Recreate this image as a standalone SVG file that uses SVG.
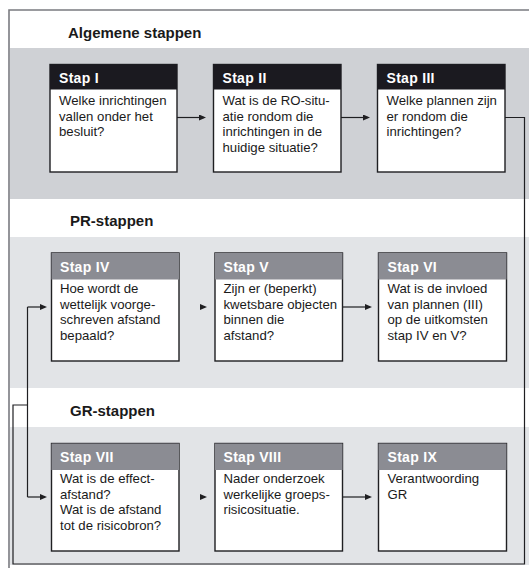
<svg xmlns="http://www.w3.org/2000/svg" width="529" height="568" viewBox="0 0 529 568">
<style>
.title{font-family:"Liberation Sans",Arial,sans-serif;font-weight:bold;font-size:15px;fill:#1a1a1a}
.hd{font-family:"Liberation Sans",Arial,sans-serif;font-weight:bold;font-size:14px;fill:#ffffff;letter-spacing:0.3px}
.tx{font-family:"Liberation Sans",Arial,sans-serif;font-size:13.2px;fill:#1a1a1a}
.box{fill:#ffffff;stroke:#1f1f22;stroke-width:1.4}
.h1{fill:#1b1a20}
.h2{fill:#8b8c93}
.con{fill:none;stroke:#1f1f22;stroke-width:1.2}
</style>
<defs>
<marker id="ah" viewBox="0 0 7 6" refX="5" refY="3" markerWidth="7" markerHeight="6" markerUnits="userSpaceOnUse" orient="auto">
<path d="M0,0 L7,3 L0,6 z" fill="#1f1f22"/>
</marker>
</defs>
<rect width="529" height="568" fill="#ffffff"/>
<g id="bands">
<rect x="10" y="48" width="519" height="151" fill="#cfd1d5"/>
<rect x="10" y="237" width="519" height="151" fill="#e2e4e7"/>
<rect x="10" y="427" width="519" height="138" fill="#e2e4e7"/>
</g>
<g id="frame">
<path d="M9,568 V10 H529" fill="none" stroke="#7a7b80" stroke-width="1.6"/>
</g>
<g id="titles">
<text class="title" x="68" y="37.5">Algemene stappen</text>
<text class="title" x="70" y="226">PR-stappen</text>
<text class="title" x="70" y="416">GR-stappen</text>
</g>
<g id="connectors">
<path class="con" d="M177,117.5 H204" marker-end="url(#ah)"/>
<path class="con" d="M341,117.5 H368" marker-end="url(#ah)"/>
<path class="con" d="M505,117.5 H524.5 V564 H13 V405 H27.5"/>
<path class="con" d="M27.5,307 V497"/>
<path class="con" d="M27.5,307 H45" marker-end="url(#ah)"/>
<path class="con" d="M27.5,497 H45" marker-end="url(#ah)"/>
<path class="con" d="M202,307 H205" marker-end="url(#ah)"/>
<path class="con" d="M343,307 H370" marker-end="url(#ah)"/>
<path class="con" d="M202,497 H205" marker-end="url(#ah)"/>
<path class="con" d="M343,497 H370" marker-end="url(#ah)"/>
</g>
<g id="stap1">
<rect class="box" x="50" y="64.5" width="127" height="107.5"/>
<rect class="h1" x="50" y="64.5" width="127" height="25"/>
<text class="hd" x="59" y="82.5">Stap I</text>
<text class="tx" x="59" y="105">Welke inrichtingen</text>
<text class="tx" x="59" y="120.5">vallen onder het</text>
<text class="tx" x="59" y="136">besluit?</text>
</g>
<g id="stap2">
<rect class="box" x="213.5" y="64.5" width="127.5" height="107.5"/>
<rect class="h1" x="213.5" y="64.5" width="127.5" height="25"/>
<text class="hd" x="222.5" y="82.5">Stap II</text>
<text class="tx" x="222.5" y="105">Wat is de RO-situ-</text>
<text class="tx" x="222.5" y="120.5">atie rondom die</text>
<text class="tx" x="222.5" y="136">inrichtingen in de</text>
<text class="tx" x="222.5" y="151.5">huidige situatie?</text>
</g>
<g id="stap3">
<rect class="box" x="377.5" y="64.5" width="127.5" height="107.5"/>
<rect class="h1" x="377.5" y="64.5" width="127.5" height="25"/>
<text class="hd" x="386.5" y="82.5">Stap III</text>
<text class="tx" x="386.5" y="105">Welke plannen zijn</text>
<text class="tx" x="386.5" y="120.5">er rondom die</text>
<text class="tx" x="386.5" y="136">inrichtingen?</text>
</g>
<g id="stap4">
<rect class="box" x="51.5" y="253" width="127.5" height="108"/>
<rect class="h2" x="51.5" y="253" width="127.5" height="26.5"/>
<text class="hd" x="60" y="271.5">Stap IV</text>
<text class="tx" x="60" y="293">Hoe wordt de</text>
<text class="tx" x="60" y="308.5">wettelijk voorge-</text>
<text class="tx" x="60" y="324">schreven afstand</text>
<text class="tx" x="60" y="339.5">bepaald?</text>
</g>
<g id="stap5">
<rect class="box" x="215" y="253" width="127.5" height="108"/>
<rect class="h2" x="215" y="253" width="127.5" height="26.5"/>
<text class="hd" x="223.5" y="271.5">Stap V</text>
<text class="tx" x="223.5" y="293">Zijn er (beperkt)</text>
<text class="tx" x="223.5" y="308.5">kwetsbare objecten</text>
<text class="tx" x="223.5" y="324">binnen die</text>
<text class="tx" x="223.5" y="339.5">afstand?</text>
</g>
<g id="stap6">
<rect class="box" x="378.5" y="253" width="128" height="108"/>
<rect class="h2" x="378.5" y="253" width="128" height="26.5"/>
<text class="hd" x="387.5" y="271.5">Stap VI</text>
<text class="tx" x="387.5" y="293">Wat is de invloed</text>
<text class="tx" x="387.5" y="308.5">van plannen (III)</text>
<text class="tx" x="387.5" y="324">op de uitkomsten</text>
<text class="tx" x="387.5" y="339.5">stap IV en V?</text>
</g>
<g id="stap7">
<rect class="box" x="51.5" y="443.5" width="127.5" height="107.5"/>
<rect class="h2" x="51.5" y="443.5" width="127.5" height="26.5"/>
<text class="hd" x="60" y="462">Stap VII</text>
<text class="tx" x="60" y="483">Wat is de effect-</text>
<text class="tx" x="60" y="498.5">afstand?</text>
<text class="tx" x="60" y="514">Wat is de afstand</text>
<text class="tx" x="60" y="529.5">tot de risicobron?</text>
</g>
<g id="stap8">
<rect class="box" x="215" y="443.5" width="127.5" height="107.5"/>
<rect class="h2" x="215" y="443.5" width="127.5" height="26.5"/>
<text class="hd" x="223.5" y="462">Stap VIII</text>
<text class="tx" x="223.5" y="483">Nader onderzoek</text>
<text class="tx" x="223.5" y="498.5">werkelijke groeps-</text>
<text class="tx" x="223.5" y="514">risicosituatie.</text>
</g>
<g id="stap9">
<rect class="box" x="378.5" y="443.5" width="128" height="107.5"/>
<rect class="h2" x="378.5" y="443.5" width="128" height="26.5"/>
<text class="hd" x="387.5" y="462">Stap IX</text>
<text class="tx" x="387.5" y="483">Verantwoording</text>
<text class="tx" x="387.5" y="498.5">GR</text>
</g>
</svg>
